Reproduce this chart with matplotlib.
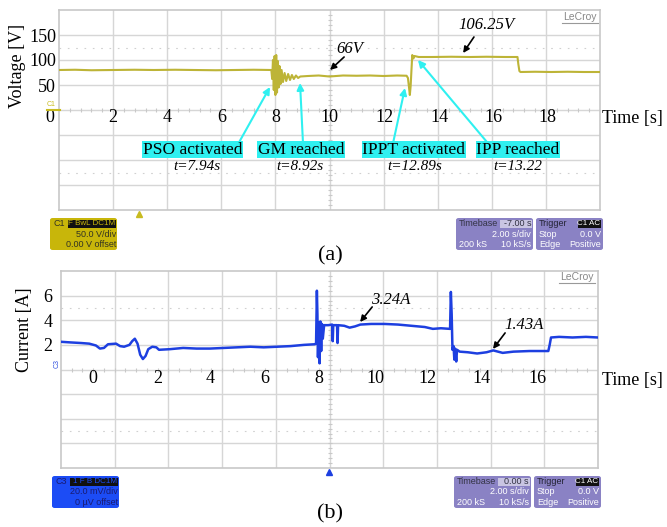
import matplotlib
matplotlib.use('Agg')
import matplotlib.pyplot as plt
from matplotlib.patches import FancyBboxPatch, Rectangle
from matplotlib.lines import Line2D

# ---------------- data ----------------
# (a) voltage trace
v_time = [0.0, 0.6, 1.2, 2.0, 2.8, 3.5, 4.3, 5.0, 5.8, 6.5, 7.2, 7.85,
          7.88, 7.91, 7.94, 7.97, 8.00, 8.03, 8.06, 8.09, 8.12, 8.15, 8.19, 8.23,
          8.28, 8.34, 8.40, 8.47, 8.54, 8.61, 8.68, 8.76, 8.84, 8.92,
          9.2, 9.6, 10.0, 10.5, 11.0, 11.5, 12.0, 12.5, 12.85,
          12.90, 12.94, 12.97, 13.00, 13.03, 13.06, 13.10, 13.14, 13.3, 13.8,
          14.5, 15.2, 15.8, 16.5, 16.95, 16.98, 17.02, 17.06, 17.6, 18.2, 18.8,
          19.4, 20.0]
v_volt = [80, 80.5, 79.5, 80, 80.5, 80, 80.5, 80, 79.5, 80, 80.5, 80,
          62, 100, 40, 108, 30, 110, 35, 98, 45, 88, 52, 80,
          56, 74, 58, 72, 60, 70, 62, 69, 64, 67,
          68, 69, 67, 69, 68.5, 69, 68, 69, 68.5,
          64, 45, 30, 48, 80, 110, 103, 108, 106, 106,
          106.5, 106, 106.5, 106, 106, 92, 78, 76, 76.5, 76, 76.5,
          76, 76]

# (b) current trace
i_time = [-1.55, -1.2, -0.8, -0.5, -0.25, -0.1, 0.05, 0.2, 0.5, 0.65, 0.8, 1.0,
          1.1, 1.2, 1.3, 1.4, 1.5, 1.6, 1.7, 1.85, 2.0, 2.1, 2.5, 3.0, 3.5,
          4.0, 4.5, 5.0, 5.5, 6.0, 6.5, 7.0, 7.5, 7.9, 7.95,
          7.98, 8.00, 8.02, 8.05, 8.08, 8.11, 8.14, 8.17, 8.20, 8.25, 8.4,
          8.55, 8.57, 8.59, 8.73, 8.75, 8.77, 9.0, 9.2, 9.4, 9.6, 10.0, 10.5,
          11.0, 11.5, 12.0, 12.3, 12.6, 12.94,
          12.97, 13.00, 13.03, 13.07, 13.10, 13.13, 13.17, 13.20, 13.3, 13.6,
          13.95, 14.3, 14.55, 14.9, 15.3, 15.9, 16.3, 16.6, 16.65, 16.7,
          17.0, 17.5, 18.0, 18.45]
i_amp = [2.25, 2.2, 2.15, 2.1, 1.95, 1.7, 1.75, 2.05, 2.1, 1.9, 1.85, 2.0,
         2.3, 2.5, 2.1, 1.2, 0.85, 1.1, 1.65, 1.85, 1.8, 1.6, 1.65, 1.75, 1.7,
         1.7, 1.75, 1.8, 1.85, 1.8, 1.85, 1.9, 2.0, 2.05, 2.1,
         6.4, 4.5, 1.0, 3.8, 0.5, 3.9, 1.5, 3.7, 2.5, 3.6, 3.6,
         3.65, 2.3, 3.6, 3.6, 2.15, 3.6, 3.55, 3.4, 3.5, 3.65, 3.7, 3.7,
         3.65, 3.55, 3.45, 3.3, 3.35, 3.3,
         6.3, 4.5, 1.6, 1.9, 0.8, 1.7, 0.65, 1.6, 1.45, 1.4,
         1.3, 1.4, 1.55, 1.35, 1.45, 1.5, 1.5, 1.5, 2.0, 2.6,
         2.65, 2.6, 2.65, 2.6]

v_ticks = [50, 100, 150]
v_xtick_labels = ['0', '2', '4', '6', '8', '10', '12', '14', '16', '18']
v_xtick_pos = [-0.33, 2.0, 4.0, 6.03, 8.0, 10.0, 12.05, 14.08, 16.05, 18.04]
i_ticks = [2, 4, 6]
i_xtick_labels = ['0', '2', '4', '6', '8', '10', '12', '14', '16']
i_xtick_pos = [-0.35, 2.05, 4.0, 6.05, 8.06, 10.15, 12.1, 14.1, 16.2]

# ---------------- figure ----------------
W, H = 667, 527
fig = plt.figure(figsize=(W / 100, H / 100), dpi=100)
fig.patch.set_facecolor('white')

SERIF = ['Liberation Serif', 'DejaVu Serif']
SANS = ['Liberation Sans', 'DejaVu Sans']
GRID = '#d6d6d6'
CYAN = '#2ff0f0'


def fx(px):
    return px / W


def fy(py):
    return 1 - py / H


ax1 = fig.add_axes([fx(59), fy(210), (600 - 59) / W, 200 / H])
ax1.set_xlim(0, 20)
ax1.set_ylim(-200, 200)
ax2 = fig.add_axes([fx(61), fy(468), (598 - 61) / W, 197 / H])
ax2.set_xlim(-1.55, 18.45)
ax2.set_ylim(-8, 8)


def scope_grid(ax):
    x0, x1 = ax.get_xlim()
    y0, y1 = ax.get_ylim()
    dx = (x1 - x0) / 10
    dy = (y1 - y0) / 8
    for k in range(1, 10):
        ax.axvline(x0 + k * dx, color=GRID, lw=1.0, zorder=0)
    for k in range(1, 8):
        ax.axhline(y0 + k * dy, color=GRID, lw=1.0, zorder=0)
    for s in (-2.5, 2.5):
        ax.axhline((y0 + y1) / 2 + s * dy, color='#d0d0d0', lw=0.8,
                   ls=(0, (1.5, 6)), zorder=0)
    xc = (x0 + x1) / 2
    yc = (y0 + y1) / 2
    tx = [x0 + k * dx / 5 for k in range(1, 50)]
    ty = [y0 + k * dy / 5 for k in range(1, 40)]
    ax.plot(tx, [yc] * len(tx), ls='none', marker='|', ms=3.5, mew=0.8,
            color='#c8c8c8', zorder=0)
    ax.plot([xc] * len(ty), ty, ls='none', marker='_', ms=3.5, mew=0.8,
            color='#c8c8c8', zorder=0)
    for sp in ax.spines.values():
        sp.set_color('#c8c8c8')
        sp.set_linewidth(1.2)
    ax.set_xticks([])
    ax.tick_params(axis='y', length=0)


scope_grid(ax1)
scope_grid(ax2)

# traces
ax1.plot(v_time, v_volt, color='#bdb437', lw=1.5, zorder=3)
ax2.plot(i_time, i_amp, color='#1d3fe0', lw=1.8, zorder=3)

# y tick labels
ax1.set_yticks(v_ticks)
ax1.set_yticklabels([str(v) for v in v_ticks], family=SERIF, fontsize=13)
ax1.tick_params(axis='y', pad=2)
ax2.set_yticks(i_ticks)
ax2.set_yticklabels([str(v) for v in i_ticks], family=SERIF, fontsize=13)
ax2.tick_params(axis='y', pad=6)

# x tick labels drawn on the centre line
for p, lab in zip(v_xtick_pos, v_xtick_labels):
    ax1.text(p, -16, lab, ha='center', va='center', family=SERIF,
             fontsize=13, clip_on=False)
for p, lab in zip(i_xtick_pos, i_xtick_labels):
    ax2.text(p, -0.75, lab, ha='center', va='center', family=SERIF,
             fontsize=13, clip_on=False)

# axis titles
fig.text(fx(18), fy(66), 'Voltage [V]', rotation=90, ha='center',
         va='center', family=SERIF, fontsize=13)
fig.text(fx(25), fy(330), 'Current [A]', rotation=90, ha='center',
         va='center', family=SERIF, fontsize=13)
fig.text(fx(602), fy(118), 'Time [s]', ha='left', va='center',
         family=SERIF, fontsize=13)
fig.text(fx(602), fy(380), 'Time [s]', ha='left', va='center',
         family=SERIF, fontsize=13)
fig.text(fx(330), fy(256), '(a)', ha='center', va='center', family=SERIF,
         fontsize=16)
fig.text(fx(330), fy(514), '(b)', ha='center', va='center', family=SERIF,
         fontsize=16)

# black value annotations
blk = dict(arrowstyle='-|>', color='black', lw=1.2, mutation_scale=9,
           shrinkA=0, shrinkB=0)
ax1.text(10.76, 122, '66V', ha='center', va='center', family=SERIF,
         style='italic', fontsize=12)
ax1.annotate('', xy=(10.02, 80), xytext=(10.54, 106), arrowprops=blk)
ax1.text(15.82, 170, '106.25V', ha='center', va='center', family=SERIF,
         style='italic', fontsize=12)
ax1.annotate('', xy=(14.94, 114), xytext=(15.34, 146), arrowprops=blk)
ax2.text(10.74, 5.65, '3.24A', ha='center', va='center', family=SERIF,
         style='italic', fontsize=12)
ax2.annotate('', xy=(9.59, 3.86), xytext=(10.04, 5.08), arrowprops=blk)
ax2.text(15.7, 3.62, '1.43A', ha='center', va='center', family=SERIF,
         style='italic', fontsize=12)
ax2.annotate('', xy=(14.54, 1.67), xytext=(14.99, 2.97), arrowprops=blk)

# cyan event labels
cy = dict(arrowstyle='-|>', color=CYAN, lw=1.5, mutation_scale=10,
          shrinkA=0, shrinkB=0)
events = [('PSO activated', 't=7.94s', 4.95, 5.1, (6.58, -72), (7.8, 46)),
          ('GM reached', 't=8.92s', 8.95, 8.91, (9.02, -66), (8.91, 54)),
          ('IPPT activated', 't=12.89s', 13.12, 13.16, (12.35, -66), (12.79, 44)),
          ('IPP reached', 't=13.22', 16.97, 16.97, (15.82, -64), (13.27, 100))]
for lab, tlab, xl, xt, tail, tip in events:
    ax1.annotate('', xy=tip, xytext=tail, arrowprops=cy, zorder=4)
    ax1.text(xl, -79, lab, ha='center', va='center', family=SERIF,
             fontsize=12.5, zorder=5,
             bbox=dict(boxstyle='square,pad=0.04', fc=CYAN, ec='none'))
    ax1.text(xt, -114, tlab, ha='center', va='center', family=SERIF,
             style='italic', fontsize=11, zorder=5)

# channel markers
fig.add_artist(Line2D([fx(47), fx(60)], [fy(109.5), fy(109.5)],
                      color='#c8bb20', lw=1.5))
fig.text(fx(51), fy(104), 'C1', color='#c8bb20', fontsize=5, family=SANS,
         ha='center', va='center')
fig.text(fx(57), fy(364), 'C3', color='#3050e0', fontsize=5, family=SANS,
         ha='center', va='center', rotation=90)
fig.add_artist(Line2D([fx(139)], [fy(214)], marker='^', ms=5,
                      color='#c8bb20', ls='none'))
fig.add_artist(Line2D([fx(329)], [fy(472)], marker='^', ms=5,
                      color='#1d3fe0', ls='none'))

# LeCroy logos
for (lx, ly) in [(580, 17), (577, 277)]:
    fig.text(fx(lx), fy(ly), 'LeCroy', ha='center', va='center',
             family=SANS, fontsize=7.5, color='#888888')
    fig.add_artist(Line2D([fx(lx - 18), fx(lx + 18)],
                          [fy(ly + 6), fy(ly + 6)], color='#999999', lw=0.8))


# info boxes
def box(x0, y0, x1, y1, fc):
    fig.add_artist(FancyBboxPatch((fx(x0), fy(y1)), fx(x1) - fx(x0),
                                  fy(y0) - fy(y1),
                                  boxstyle='round,pad=0,rounding_size=0.004',
                                  fc=fc, ec='none', transform=fig.transFigure))


def rect(x0, y0, x1, y1, fc):
    fig.add_artist(Rectangle((fx(x0), fy(y1)), fx(x1) - fx(x0),
                             fy(y0) - fy(y1), fc=fc, ec='none',
                             transform=fig.transFigure))


def txt(x, y, s, ha='left', color='white', fs=6.5):
    fig.text(fx(x), fy(y), s, ha=ha, va='center', family=SANS, fontsize=fs,
             color=color)


def chan_box(x0, y0, fc, tc, name, badge, l2, l3):
    x1, y1 = x0 + 67, y0 + 32
    box(x0, y0, x1, y1, fc)
    txt(x0 + 3, y0 + 5.5, name, color=tc)
    rect(x0 + 18, y0 + 1.5, x1 - 1, y0 + 10, '#111111')
    txt(x1 - 2, y0 + 5.7, badge, ha='right', color=fc, fs=5.8)
    txt(x1 - 1, y0 + 16, l2, ha='right', color=tc)
    txt(x1 - 1, y0 + 26.5, l3, ha='right', color=tc)


def time_boxes(x0, y0, tb):
    y1 = y0 + 32
    box(x0, y0, x0 + 77, y1, '#8a82c4')
    rect(x0 + 44, y0 + 1.5, x0 + 76, y0 + 10, '#c9c5e2')
    txt(x0 + 3, y0 + 5.5, 'Timebase', color='#333344')
    txt(x0 + 75, y0 + 5.5, tb, ha='right', color='#333344')
    txt(x0 + 75, y0 + 16, '2.00 s/div', ha='right')
    txt(x0 + 3, y0 + 26.5, '200 kS')
    txt(x0 + 75, y0 + 26.5, '10 kS/s', ha='right')
    t0 = x0 + 80
    box(t0, y0, t0 + 67, y1, '#8a82c4')
    txt(t0 + 3, y0 + 5.5, 'Trigger', color='#222233')
    rect(t0 + 42, y0 + 1.5, t0 + 65, y0 + 10, '#111111')
    txt(t0 + 64, y0 + 5.7, 'C1 AC', ha='right', color='white', fs=5.8)
    txt(t0 + 3, y0 + 16, 'Stop')
    txt(t0 + 65, y0 + 16, '0.0 V', ha='right')
    txt(t0 + 3, y0 + 26.5, 'Edge')
    txt(t0 + 65, y0 + 26.5, 'Positive', ha='right')


chan_box(50, 218, '#c8b60a', '#333322', 'C1', 'F BwL DC1M', '50.0 V/div',
         '0.00 V offset')
time_boxes(456, 218, '-7.00 s')
chan_box(52, 476, '#1c4cf5', '#1a1a70', 'C3', '1 F B DC1M', '20.0 mV/div',
         '0 µV offset')
time_boxes(454, 476, '0.00 s')

fig.savefig('out.png', dpi=100, facecolor='white')
